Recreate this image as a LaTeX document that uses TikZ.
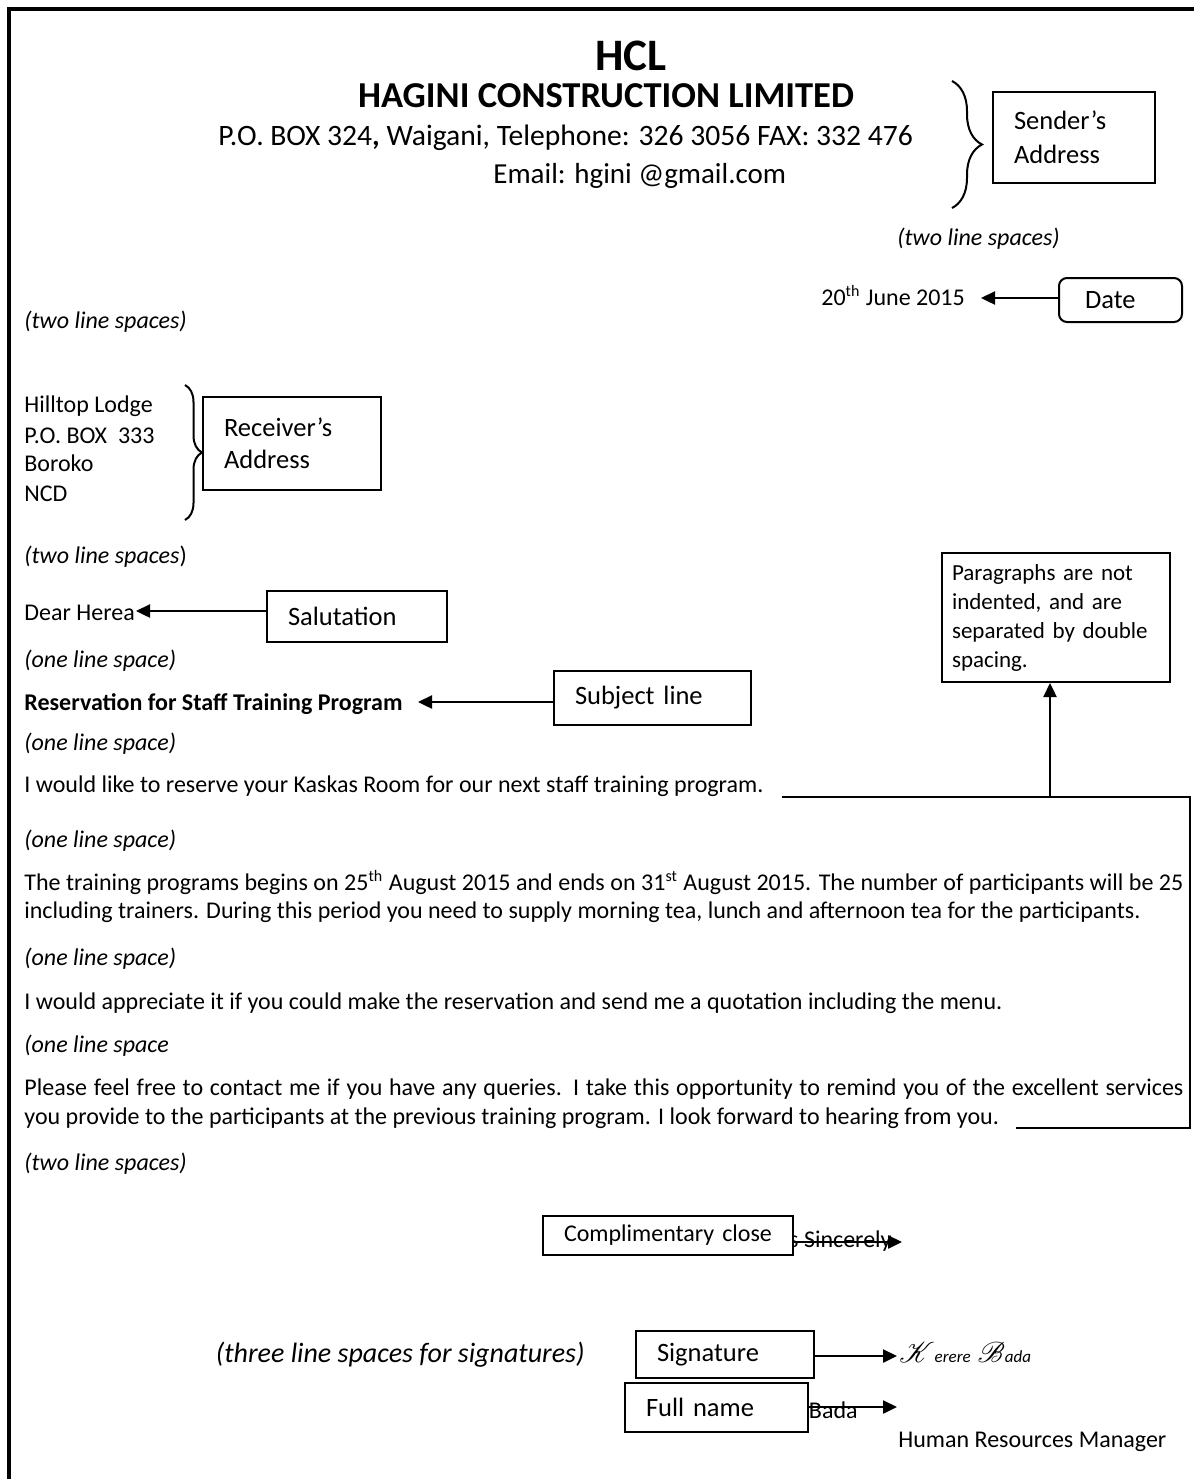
\documentclass[tikz,border=0pt]{standalone}
\usepackage{fontspec}
\setmainfont{Carlito}
\usepackage{mathrsfs}
\usetikzlibrary{arrows.meta,decorations.pathreplacing}
\newcommand\setfs[2]{\fontsize{#1pt}{#2pt}\selectfont}
\tikzset{
  box/.style={draw, line width=1pt, rectangle, inner ysep=0pt, inner xsep=10.5pt, align=left, anchor=center, fill=white, font=\setfs{13.25}{17}},
  conn/.style={line width=1.2pt, -{Triangle[length=7pt,width=6.5pt]}},
  plainline/.style={line width=1.1pt},
  bracestyle/.style={line width=1pt, decorate},
  txt/.style={inner sep=0pt, anchor=base west, font=\setfs{12}{14}},
  itxt/.style={txt, font=\setfs{12}{14}\itshape},
}
\begin{document}
\begin{tikzpicture}[x=0.5pt,y=-0.5pt]
\fill[white] (0,0) rectangle (1194,1479);
\useasboundingbox (0,0) rectangle (1194,1479);
% page border
\draw[line width=2pt] (8.5,1479) -- (8.5,9) -- (1194,9);

% header
\node[inner sep=0pt, anchor=base, font=\setfs{22.5}{27}\bfseries] (hcl) at (631,70) {HCL};
\node[inner sep=0pt, anchor=base, font=\setfs{18.25}{22}\bfseries] (hagini) at (606,107) {HAGINI CONSTRUCTION LIMITED};
\node[txt, font=\setfs{14.8}{17}] (po) at (218,145) {P.O. BOX 324{\bfseries ,} Waigani, Telephone: 326 3056 FAX: 332 476};
\node[txt, font=\setfs{14.5}{17}] (email) at (493,183) {Email: hgini @gmail.com};
\draw[bracestyle, decoration={brace, amplitude=15pt}] (952,81) -- (952,208);
\node[box, text width=60pt, minimum height=45.5pt] (sender) at (1074,137.5) {Sender’s\\Address};
\node[itxt] (tls1) at (897,245) {(two line spaces)};

% date
\node[txt] (datetext) at (821,305) {20\textsuperscript{th} June 2015};
\node[box, rounded corners=4pt, inner xsep=13pt, text width=35.5pt, minimum height=22pt] (date) at (1120.5,300) {Date};
\coordinate (datetip) at (981,298);
\draw[conn] (datetip -| date.west) -- (datetip);

\node[itxt] (tls2) at (24,328) {(two line spaces)};

% receiver
\node[txt] (r1) at (24,412) {Hilltop Lodge};
\node[txt] (r2) at (24,443) {P.O. BOX\ \ 333};
\node[txt] (r3) at (24,471) {Boroko};
\node[txt] (r4) at (24,501) {NCD};
\draw[bracestyle, decoration={brace, amplitude=8.5pt}] (185,385) -- (185,520);
\node[box, text width=68pt, minimum height=46.5pt, font=\setfs{13.25}{16}] (receiver) at (292,443.5) {Receiver’s\\Address};

\node[txt] (tls3) at (24,563) {\itshape (two line spaces\/\upshape)};

% salutation
\node[txt] (dear) at (24,620) {Dear Herea};
\node[box, text width=69pt, minimum height=25.5pt] (sal) at (357,616.5) {Salutation};
\coordinate (saltip) at (136,611);
\draw[conn] (saltip -| sal.west) -- (saltip);

\node[itxt] (ols1) at (24,667) {(one line space)};

% subject
\node[txt, font=\setfs{12}{14}\bfseries] (subj) at (24,710) {Reservation for Staff Training Program};
\node[box, text width=77.5pt, minimum height=27pt] (sub) at (652.5,698) {Subject line};
\coordinate (subtip) at (418,702);
\draw[conn] (subtip -| sub.west) -- (subtip);

\node[itxt] (ols2) at (24,750) {(one line space)};

% paragraphs
\node[txt] (p1) at (24,792) {I would like to reserve your Kaskas Room for our next staff training program.};
\node[itxt] (ols3) at (24,847) {(one line space)};
\node[txt] (p2a) at (24,890) {\makebox[579.5pt][s]{The training programs begins on 25\textsuperscript{th} August 2015 and ends on 31\textsuperscript{st} August 2015. The number of participants will be 25}};
\node[txt] (p2b) at (24,918) {including trainers. During this period you need to supply morning tea, lunch and afternoon tea for the participants.};
\node[itxt] (ols4) at (24,965) {(one line space)};
\node[txt] (p3) at (24,1009) {I would appreciate it if you could make the reservation and send me a quotation including the menu.};
\node[itxt] (ols5) at (24,1052) {(one line space};
\node[txt] (p4a) at (24,1095) {\makebox[579.5pt][s]{Please feel free to contact me if you have any queries. I take this opportunity to remind you of the excellent services}};
\node[txt] (p4b) at (24,1124) {you provide to the participants at the previous training program. I look forward to hearing from you.};
\node[itxt] (tls4) at (24,1170) {(two line spaces)};

% paragraphs note
\node[box, inner xsep=5pt, text width=104pt, minimum height=64.5pt, font=\setfs{11.5}{14.5}] (para) at (1056,617.5)
  {\makebox[104pt][s]{Paragraphs are not}\\\makebox[104pt][s]{indented, and are}\\\makebox[104pt][s]{separated by double}\\spacing.};
\coordinate (pstart) at (782,797);
\coordinate (pj) at (1050,797);
\coordinate (b2) at (1190,797);
\coordinate (b3) at (1190,1128);
\coordinate (b4) at (1016,1128);
\draw[plainline] (pstart) -- (b2) -- (b3) -- (b4);
\draw[conn] (pj) -- (pj |- para.south);

% complimentary close
\node[txt, anchor=base east] (yours) at (892,1247) {s Sincerely};
\node[box, align=center, inner xsep=0pt, text width=125pt, minimum height=19.5pt, font=\setfs{12}{14}] (compl) at (668,1235.5) {Complimentary close};
\coordinate (ctip) at (902,1242);
\draw[conn] (ctip -| compl.east) -- (ctip);

% signature
\node[txt, font=\setfs{14}{16}\itshape, anchor=base east] (tls5) at (585,1362) {(three line spaces for signatures)};
\node[box, text width=68pt, minimum height=23.5pt] (sig) at (725,1354.5) {Signature};
\node[txt] (sigscript) at (899,1362) {\setfs{15}{17}$\mathscr{K}$\textit{\setfs{8.5}{10}erere} $\mathscr{B}$\textit{\setfs{8.5}{10}ada}};
\coordinate (stip) at (897,1356);
\draw[conn] (stip -| sig.east) -- (stip);

% full name
\node[txt, anchor=base east] (kb) at (858,1418) {Bada};
\node[box, text width=70.5pt, minimum height=24.5pt] (full) at (716.5,1407.5) {Full name};
\coordinate (ftip) at (897,1407);
\draw[conn] (ftip -| full.east) -- (ftip);
\node[txt] (hrm) at (898,1447) {Human Resources Manager};
\end{tikzpicture}
\end{document}
